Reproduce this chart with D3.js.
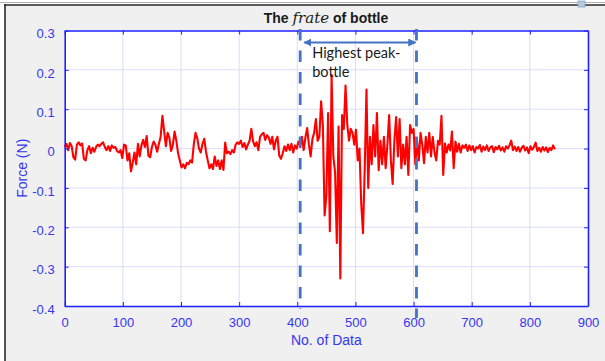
<!DOCTYPE html>
<html>
<head>
<meta charset="utf-8">
<script src="https://cdn.jsdelivr.net/npm/d3@7"></script>
<style>
  body { margin: 0; background: #ffffff; }
  svg { display: block; }
</style>
</head>
<body>
<svg id="chart" width="605" height="361"></svg>
<script>
// Force trace of the bottle, one value every `sampleStep` samples
const sampleStep = 3;
const force = [
  0.004, 0.012, -0.004, 0.014, 0.006, -0.022, -0.028, 0.010, 0.016, 0.008,
  0.013, -0.026, -0.030, -0.004, 0.006, -0.012, 0.002, -0.008, 0.004, 0.010,
  0.006, 0.012, 0.016, 0.004, -0.004, 0.006, -0.006, 0.008, 0.002, 0.004,
  -0.006, -0.010, -0.004, -0.024, 0.010, 0.008, -0.030, -0.012, -0.058, -0.036,
  -0.010, -0.040, 0.012, -0.020, 0.008, 0.022, 0.004, 0.032, -0.018, -0.022,
  0.004, 0.018, 0.010, -0.008, 0.012, 0.030, 0.083, 0.045, 0.006, 0.040,
  0.028, -0.006, 0.010, 0.043, 0.020, -0.012, -0.030, -0.048, -0.040, -0.050,
  -0.036, -0.040, -0.030, -0.036, 0.010, 0.040, 0.026, 0.000, -0.010, 0.012,
  0.025, -0.008, -0.030, -0.050, -0.040, -0.052, -0.020, -0.044, -0.030, -0.052,
  -0.030, -0.054, 0.015, -0.012, -0.008, -0.014, -0.004, -0.010, 0.010, 0.016,
  0.012, 0.020, 0.004, 0.014, -0.002, 0.010, 0.020, 0.050, 0.018, 0.006,
  0.016, -0.004, 0.030, 0.036, 0.040, 0.022, 0.034, 0.028, 0.012, 0.030,
  -0.002, 0.020, 0.030, -0.018, -0.026, -0.012, 0.006, -0.006, 0.010, -0.004,
  0.012, -0.010, 0.008, 0.000, 0.018, 0.008, 0.030, -0.004, 0.028, 0.052,
  0.010, -0.020, 0.024, 0.040, 0.075, 0.020, 0.030, 0.120, 0.060, -0.170,
  -0.120, 0.090, -0.210, 0.187, -0.020, -0.060, -0.240, 0.056, -0.330, 0.085,
  0.050, 0.160, 0.060, 0.020, 0.050, 0.040, 0.010, 0.048, -0.030, 0.000,
  -0.140, -0.215, -0.050, 0.150, -0.100, 0.030, -0.040, 0.060, -0.020, 0.090,
  -0.055, 0.020, -0.040, 0.030, -0.050, 0.010, 0.085, -0.030, -0.090, 0.020,
  0.080, -0.020, 0.075, -0.050, 0.010, -0.040, 0.030, -0.067, 0.060, 0.040,
  0.050, -0.040, 0.020, -0.030, 0.040, 0.010, -0.037, 0.030, -0.010, 0.040,
  -0.020, 0.030, -0.010, -0.030, 0.020, 0.010, 0.083, -0.067, 0.013, -0.010,
  0.010, -0.005, 0.043, -0.050, 0.018, -0.008, 0.012, -0.010, 0.008, 0.002,
  0.010, -0.006, 0.008, -0.004, 0.006, -0.010, 0.004, 0.000, 0.009, -0.008,
  0.005, -0.004, 0.008, -0.006, 0.003, 0.006, -0.009, 0.004, -0.002, 0.007,
  -0.005, 0.003, -0.008, 0.006, 0.000, 0.008, 0.020, -0.004, 0.005, -0.006,
  0.004, -0.008, 0.002, 0.007, -0.005, 0.003, -0.012, 0.006, -0.003, 0.004,
  0.015, -0.006, 0.002, -0.008, 0.004, -0.005, 0.003, -0.009, 0.002, -0.004,
  0.008, -0.002
];

const xTicks = [0, 100, 200, 300, 400, 500, 600, 700, 800, 900];
const yTicks = [-0.4, -0.3, -0.2, -0.1, 0, 0.1, 0.2, 0.3];
const yTickLabels = ["-0.4", "-0.3", "-0.2", "-0.1", "0", "0.1", "0.2", "0.3"];
const xDomain = [0, 900];
const yDomain = [-0.4, 0.3];

// Window around the highest peak (sample numbers)
const peakWindow = [405, 605];
const peakNote = ["Highest peak-", "bottle"];

const titlePre = "The ";
const titleVar = "frate";
const titlePost = " of bottle";
const xLabel = "No. of Data";
const yLabel = "Force (N)";

const svg = d3.select("#chart");
const W = 605, H = 361;
const plot = { left: 64.7, right: 588, top: 30.5, bottom: 306 };

// Figure window background and frame
svg.append("rect").attr("width", W).attr("height", H).attr("fill", "#ffffff");
svg.append("rect").attr("x", 5).attr("y", 5).attr("width", W - 5).attr("height", H - 5).attr("fill", "#f0f0f0");
svg.append("line").attr("x1", 0).attr("x2", W).attr("y1", 2.5).attr("y2", 2.5)
  .attr("stroke", "#b4b4b4").attr("stroke-width", 1);
svg.append("line").attr("x1", 4).attr("x2", W).attr("y1", 5).attr("y2", 5)
  .attr("stroke", "#2a2a2a").attr("stroke-width", 1.6);
svg.append("line").attr("x1", 5).attr("x2", 5).attr("y1", 4).attr("y2", H)
  .attr("stroke", "#2a2a2a").attr("stroke-width", 1.6);
svg.append("rect").attr("x", 578).attr("y", 1).attr("width", 7).attr("height", 6)
  .attr("fill", "#b8c8dc").attr("stroke", "#8aa2c0").attr("stroke-width", 0.8);

const x = d3.scaleLinear().domain(xDomain).range([plot.left, plot.right]);
const y = d3.scaleLinear().domain(yDomain).range([plot.bottom, plot.top]);

// Plot area
svg.append("rect")
  .attr("x", plot.left).attr("y", plot.top)
  .attr("width", plot.right - plot.left).attr("height", plot.bottom - plot.top)
  .attr("fill", "#ffffff");

// Grid
const grid = svg.append("g").attr("stroke", "#dcdcfb").attr("stroke-width", 1);
grid.selectAll(".gx").data(xTicks.slice(1, -1)).join("line")
  .attr("x1", d => x(d)).attr("x2", d => x(d))
  .attr("y1", plot.top).attr("y2", plot.bottom);
grid.selectAll(".gy").data(yTicks.slice(1, -1)).join("line")
  .attr("x1", plot.left).attr("x2", plot.right)
  .attr("y1", d => y(d)).attr("y2", d => y(d));

// Force trace
const line = d3.line()
  .x((d, i) => x(i * sampleStep))
  .y(d => y(d));
svg.append("path")
  .datum(force)
  .attr("d", line)
  .attr("fill", "none")
  .attr("stroke", "#ff0000")
  .attr("stroke-width", 2.1)
  .attr("stroke-linejoin", "round");

// Axes (MATLAB-style box with inward ticks)
const axisColor = "#1f1fff";
const labelColor = "#3535f2";
const tickFont = "Liberation Sans, Arial, sans-serif";

function styleAxis(g) {
  g.select(".domain").attr("stroke", axisColor).attr("stroke-width", 1.6);
  g.selectAll(".tick line").attr("stroke", axisColor).attr("stroke-width", 1);
  g.selectAll(".tick text")
    .attr("fill", labelColor)
    .style("font-family", tickFont)
    .style("font-size", "13px");
}

svg.append("g")
  .attr("transform", `translate(0,${plot.bottom})`)
  .call(d3.axisBottom(x).tickValues(xTicks).tickSizeInner(-4).tickSizeOuter(0).tickPadding(12).tickFormat(d3.format("d")))
  .call(styleAxis);

svg.append("g")
  .attr("transform", `translate(0,${plot.top})`)
  .call(d3.axisTop(x).tickValues(xTicks).tickSizeInner(-4).tickSizeOuter(0).tickFormat(""))
  .call(styleAxis);

svg.append("g")
  .attr("transform", `translate(${plot.left},0)`)
  .call(d3.axisLeft(y).tickValues(yTicks).tickSizeInner(-4).tickSizeOuter(0).tickPadding(10)
    .tickFormat((d, i) => yTickLabels[i]))
  .call(styleAxis)
  .call(g => g.selectAll(".tick text").attr("dy", "0.55em"));

svg.append("g")
  .attr("transform", `translate(${plot.right},0)`)
  .call(d3.axisRight(y).tickValues(yTicks).tickSizeInner(-4).tickSizeOuter(0).tickFormat(""))
  .call(styleAxis);

// Axis titles
svg.append("text")
  .attr("x", (plot.left + plot.right) / 2).attr("y", 345)
  .attr("text-anchor", "middle")
  .attr("fill", labelColor)
  .style("font-family", tickFont).style("font-size", "14px")
  .text(xLabel);

svg.append("text")
  .attr("transform", `translate(27,${(plot.top + plot.bottom) / 2}) rotate(-90)`)
  .attr("text-anchor", "middle")
  .attr("fill", labelColor)
  .style("font-family", tickFont).style("font-size", "14px")
  .text(yLabel);

// Title with the italic variable name
const title = svg.append("text")
  .attr("x", 326).attr("y", 23)
  .attr("text-anchor", "middle")
  .attr("fill", "#1a1a1a")
  .style("font-family", tickFont).style("font-size", "14px").style("font-weight", "bold")
  .style("white-space", "pre");
title.append("tspan").text(titlePre);
title.append("tspan")
  .style("font-family", "DejaVu Serif, serif")
  .style("font-style", "italic").style("font-weight", "normal")
  .style("font-size", "15px")
  .text(titleVar);
title.append("tspan").text(titlePost);

// Peak window: dashed bounds, double arrow and note
const noteColor = "#4472c4";
const ann = svg.append("g");
ann.append("line")
  .attr("x1", x(peakWindow[0])).attr("x2", x(peakWindow[0]))
  .attr("y1", 29).attr("y2", 309)
  .attr("stroke", noteColor).attr("stroke-width", 2.8)
  .attr("stroke-dasharray", "11.5 10");
ann.append("line")
  .attr("x1", x(peakWindow[1])).attr("x2", x(peakWindow[1]))
  .attr("y1", 29).attr("y2", 318)
  .attr("stroke", noteColor).attr("stroke-width", 2.8)
  .attr("stroke-dasharray", "11.5 10");

const defs = svg.append("defs");
defs.append("marker")
  .attr("id", "arrowHead")
  .attr("viewBox", "0 0 10 10")
  .attr("refX", 9).attr("refY", 5)
  .attr("markerWidth", 4).attr("markerHeight", 4)
  .attr("orient", "auto-start-reverse")
  .append("path").attr("d", "M0,0 L10,5 L0,10 Z").attr("fill", noteColor);

ann.append("line")
  .attr("x1", x(peakWindow[0]) + 4).attr("x2", x(peakWindow[1]) - 1)
  .attr("y1", 42.5).attr("y2", 42.5)
  .attr("stroke", noteColor).attr("stroke-width", 2)
  .attr("marker-start", "url(#arrowHead)")
  .attr("marker-end", "url(#arrowHead)");

const note = ann.append("text")
  .attr("fill", "#1a1a1a")
  .style("font-family", "Lato, 'Open Sans', sans-serif")
  .style("font-size", "14.5px");
note.selectAll("tspan").data(peakNote).join("tspan")
  .attr("x", x(peakWindow[0]) + 12)
  .attr("y", (d, i) => 58 + i * 19)
  .text(d => d);
</script>
</body>
</html>
